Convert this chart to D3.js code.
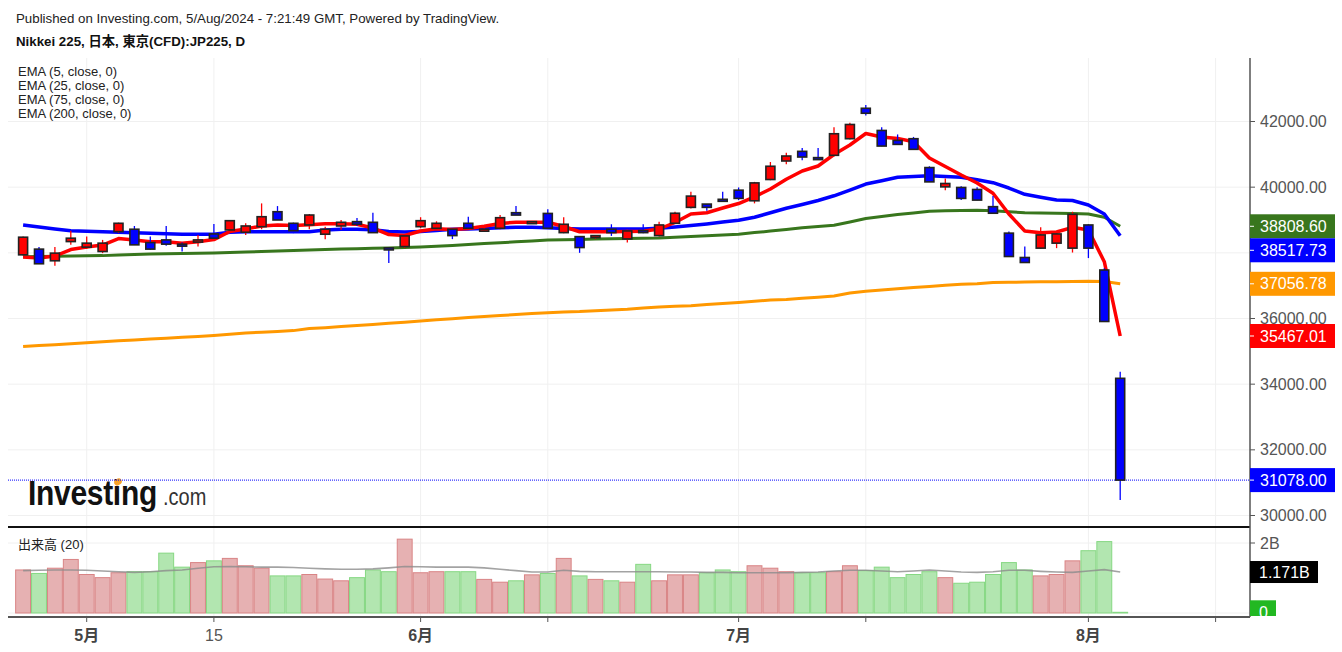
<!DOCTYPE html>
<html>
<head>
<meta charset="utf-8">
<script src="https://cdn.jsdelivr.net/npm/d3@7"></script>
<style>
  body { margin: 0; background: #fff; }
  svg { display: block; font-family: "Liberation Sans", Arial, "Noto Sans CJK JP", sans-serif; }
</style>
</head>
<body>
<div id="chart"></div>
<script>
// daily bars, Nikkei 225 CFD (JP holidays skipped)
var dates = ["2024-04-24","2024-04-25","2024-04-26","2024-04-30","2024-05-01","2024-05-02","2024-05-07","2024-05-08","2024-05-09","2024-05-10",
  "2024-05-13","2024-05-14","2024-05-15","2024-05-16","2024-05-17","2024-05-20","2024-05-21","2024-05-22","2024-05-23","2024-05-24",
  "2024-05-27","2024-05-28","2024-05-29","2024-05-30","2024-05-31","2024-06-03","2024-06-04","2024-06-05","2024-06-06","2024-06-07",
  "2024-06-10","2024-06-11","2024-06-12","2024-06-13","2024-06-14","2024-06-17","2024-06-18","2024-06-19","2024-06-20","2024-06-21",
  "2024-06-24","2024-06-25","2024-06-26","2024-06-27","2024-06-28","2024-07-01","2024-07-02","2024-07-03","2024-07-04","2024-07-05",
  "2024-07-08","2024-07-09","2024-07-10","2024-07-11","2024-07-12","2024-07-16","2024-07-17","2024-07-18","2024-07-19","2024-07-22",
  "2024-07-23","2024-07-24","2024-07-25","2024-07-26","2024-07-29","2024-07-30","2024-07-31","2024-08-01","2024-08-02","2024-08-05"];

var opens = [37939,38113,37758,38343,38174,38040,38646,38719,38313,38394,
  38264,38327,38576,38697,38627,38797,39252,38900,38849,38567,
  38818,38950,38930,38150,38191,38797,38748,38719,38900,38670,
  38748,39222,38900,39200,38615,38494,38475,38719,38424,38676,
  38525,38900,39385,39485,39630,39909,39585,40233,40797,41091,
  40900,40970,41476,42403,41727,41424,41476,40597,40009,39991,
  39930,39406,38600,37858,38143,38295,38143,38849,37477,34178];
var highs = [38500,38174,38174,38676,38494,38394,38920,38818,38494,38818,
  38313,38545,38879,39000,38900,39506,39424,38920,39182,38797,
  39000,39060,39222,38160,38540,39085,38960,38730,39100,38780,
  39152,39424,38960,39325,39085,38494,38540,38870,38700,38870,
  38950,39255,39858,39485,39858,39991,40161,40767,41052,41191,
  41191,41827,41961,42506,41827,41606,41530,40636,40264,40030,
  40000,39730,38646,38191,38779,38616,39252,38870,37528,34379];
var lows = [37920,37660,37606,38243,38113,37991,38600,38243,38091,38212,
  38040,38193,38425,38670,38540,38720,39000,38600,38720,38416,
  38700,38820,38615,37690,38150,38748,38700,38418,38748,38640,
  38720,39150,38890,38748,38600,38000,38420,38515,38313,38600,
  38494,38880,39354,39282,39590,39606,39506,40212,40697,40818,
  40840,40940,41455,42182,41250,41300,41150,40160,39909,39606,
  39600,39200,37888,37706,38113,38143,38009,37840,35900,30471];
var closes = [38476,37667,37991,38446,38295,38295,38900,38243,38113,38264,
  38212,38394,38446,38979,38818,39100,39000,38676,39152,38719,
  38930,38870,38615,38100,38515,38979,38900,38525,38748,38720,
  39070,39150,38950,38748,38870,38161,38525,38615,38667,38615,
  38849,39206,39728,39385,39590,39658,40130,40637,40949,40918,
  40842,41627,41909,42251,41252,41303,41152,40161,40112,39658,
  39606,39206,37888,37706,38546,38576,39173,38143,35909,31078];

// volume in billions and its 20-bar average
var volumes = [1.23,1.13,1.28,1.53,1.10,1.01,1.15,1.18,1.18,1.71,
  1.31,1.44,1.49,1.56,1.35,1.28,1.06,1.06,1.10,0.97,
  0.92,1.01,1.23,1.18,2.11,1.15,1.18,1.18,1.18,0.96,
  0.88,0.92,1.09,1.13,1.56,1.06,0.96,0.92,0.88,1.39,
  0.92,1.09,1.09,1.15,1.23,1.18,1.35,1.28,1.18,1.15,
  1.15,1.18,1.35,1.21,1.31,1.01,1.10,1.18,1.01,0.85,
  0.88,1.10,1.44,1.23,1.06,1.10,1.49,1.78,2.04,0.02];
var volumeMA = [1.21,1.22,1.23,1.23,1.22,1.20,1.18,1.16,1.18,1.21,
  1.23,1.28,1.32,1.33,1.32,1.31,1.31,1.30,1.28,1.26,
  1.25,1.25,1.26,1.29,1.33,1.32,1.31,1.31,1.31,1.29,
  1.25,1.21,1.17,1.17,1.22,1.19,1.18,1.18,1.18,1.18,
  1.18,1.17,1.17,1.16,1.16,1.15,1.15,1.15,1.15,1.16,
  1.17,1.20,1.22,1.22,1.20,1.18,1.20,1.23,1.20,1.17,
  1.16,1.18,1.22,1.22,1.19,1.17,1.16,1.20,1.24,1.171];

// EMA values
var ema5 = [37873,37842,37903,38101,38177,38238,38436,38391,38339,38339,
  38293,38336,38403,38649,38726,38817,38847,38829,38857,38887,
  38884,38872,38756,38558,38528,38665,38735,38710,38738,38811,
  38896,38930,38930,38930,38802,38643,38643,38643,38649,38659,
  38726,38924,39182,39222,39365,39502,39706,39944,40239,40492,
  40645,40995,41284,41634,41528,41485,41385,40888,40629,40370,
  40127,39813,39182,38665,38613,38634,38777,38695,37729,35467.01];
var ema25 = [38847,38786,38726,38671,38656,38640,38625,38610,38595,38579,
  38564,38564,38564,38628,38643,38643,38643,38643,38643,38695,
  38716,38722,38704,38652,38631,38652,38680,38716,38726,38741,
  38765,38777,38777,38765,38741,38726,38726,38726,38726,38729,
  38750,38787,38829,38878,38936,38991,39085,39219,39359,39472,
  39594,39737,39913,40096,40197,40303,40325,40346,40325,40303,
  40224,40136,39974,39782,39691,39609,39594,39457,39182,38517.73];
var ema75 = [37882,37888,37894,37900,37909,37915,37934,37949,37964,37970,
  37979,37985,37994,38010,38025,38040,38055,38071,38086,38101,
  38116,38126,38138,38150,38159,38177,38202,38223,38253,38281,
  38308,38336,38363,38391,38397,38406,38418,38427,38433,38442,
  38451,38473,38500,38518,38543,38567,38616,38662,38713,38765,
  38802,38838,38939,39045,39106,39167,39213,39265,39280,39289,
  39298,39280,39250,39222,39216,39207,39198,39182,39082,38808.60];
var ema200 = [35146,35177,35201,35232,35262,35293,35320,35348,35375,35399,
  35427,35451,35482,35518,35558,35582,35604,35631,35692,35722,
  35753,35786,35820,35856,35887,35926,35960,35993,36027,36060,
  36091,36121,36149,36173,36197,36210,36234,36258,36283,36319,
  36347,36371,36389,36423,36456,36490,36523,36563,36578,36615,
  36648,36685,36776,36831,36868,36904,36941,36977,37014,37041,
  37059,37096,37102,37111,37117,37120,37126,37133,37126,37056.78];

var emaNames = ["EMA (5, close, 0)", "EMA (25, close, 0)", "EMA (75, close, 0)", "EMA (200, close, 0)"];
var priceTicks = [30000, 32000, 34000, 36000, 38000, 40000, 42000];
var volTicks = [2];
var tickDates = ["2024-05-01","2024-05-15","2024-06-03","2024-06-13","2024-07-01","2024-07-11","2024-08-01","2024-08-13"];
var tickLabels = ["5月","15","6月","","7月","","8月",""];

// layout
var width = 1342, height = 652;
var left = 8, right = 1250, mainTop = 58, mainBottom = 527, volBottom = 617;
const upColor = "#ff0000", downColor = "#0000ff";

var svg = d3.select("#chart").append("svg")
    .attr("width", width)
    .attr("height", height);

var x = d3.scaleLinear().domain([0, dates.length - 1]).range([23.1, 1120.2]);
var y = d3.scaleLinear().domain([30000, 42000]).range([515.5, 121.5]);
var yVol = d3.scaleLinear().domain([0, 2]).range([613, 543]);

// bar index of a date, counting weekdays past the last bar
function dateIndex(d) {
  var i = dates.indexOf(d);
  if (i >= 0) return i;
  var t = new Date(dates[dates.length - 1] + "T00:00:00Z"), end = new Date(d + "T00:00:00Z"), n = dates.length - 1;
  while (t < end) {
    t.setUTCDate(t.getUTCDate() + 1);
    if (t.getUTCDay() != 0 && t.getUTCDay() != 6) n++;
  }
  return n;
}
var tickX = tickDates.map(function(d) { return x(dateIndex(d)); });

var defs = svg.append("defs");
defs.append("clipPath").attr("id", "clipMain").append("rect")
    .attr("x", left).attr("y", mainTop).attr("width", right - left).attr("height", mainBottom - mainTop);
defs.append("clipPath").attr("id", "clipVol").append("rect")
    .attr("x", left).attr("y", mainBottom).attr("width", right - left).attr("height", volBottom - mainBottom);

// grid
var grid = svg.append("g").attr("stroke", "#f0f0f0").attr("stroke-width", 1);
tickX.forEach(function(tx) {
  grid.append("line").attr("x1", tx).attr("x2", tx).attr("y1", mainTop).attr("y2", volBottom);
});
priceTicks.forEach(function(p) {
  grid.append("line").attr("x1", left).attr("x2", right).attr("y1", y(p)).attr("y2", y(p));
});
[0, 2].forEach(function(v) {
  grid.append("line").attr("x1", left).attr("x2", right).attr("y1", yVol(v)).attr("y2", yVol(v));
});

// header
svg.append("text").attr("x", 16).attr("y", 22.5)
    .style("font-size", "13.3px").style("fill", "#222")
    .text("Published on Investing.com, 5/Aug/2024 - 7:21:49 GMT, Powered by TradingView.");
svg.append("text").attr("x", 16).attr("y", 45.5)
    .style("font-size", "13.3px").style("font-weight", "bold").style("fill", "#111")
    .text("Nikkei 225, 日本, 東京(CFD):JP225, D");

// logo
var logo = svg.append("g");
logo.append("text").attr("transform", "translate(28,505) scale(1,1.16)")
    .style("font-size", "30px").style("font-weight", "bold").style("fill", "#111")
    .style("letter-spacing", "-0.3px")
    .text("Investing");
logo.append("text").attr("transform", "translate(163,505) scale(1,1.2)")
    .style("font-size", "20px").style("fill", "#333")
    .text(".com");
logo.append("ellipse").attr("cx", 118).attr("cy", 482).attr("rx", 4).attr("ry", 3.2)
    .attr("transform", "rotate(-35,118,482)").style("fill", "#f7a128");

// current price line
svg.append("line").attr("x1", left).attr("x2", right)
    .attr("y1", y(closes[closes.length - 1])).attr("y2", y(closes[closes.length - 1]))
    .attr("stroke", "#0000ff").attr("stroke-width", 1).attr("stroke-dasharray", "1,1");

// EMA lines
var main = svg.append("g").attr("clip-path", "url(#clipMain)");
var line = d3.line().x(function(d, i) { return x(i); }).y(function(d) { return y(d); });
var emaSeries = [
  {values: ema200, color: "#ff9800", w: 3},
  {values: ema75, color: "#38761d", w: 3},
  {values: ema25, color: "#0000ff", w: 3.5},
  {values: ema5, color: "#ff0000", w: 3.5}
];
emaSeries.forEach(function(s) {
  main.append("path").datum(s.values)
      .attr("d", line)
      .style("fill", "none")
      .style("stroke", s.color)
      .style("stroke-width", s.w)
      .style("stroke-linejoin", "round");
});

// candles
var candle = main.selectAll(".candle")
    .data(dates)
    .enter().append("g")
    .attr("class", "candle");
candle.append("line")
    .attr("x1", function(d, i) { return x(i); })
    .attr("x2", function(d, i) { return x(i); })
    .attr("y1", function(d, i) { return y(highs[i]); })
    .attr("y2", function(d, i) { return y(lows[i]); })
    .style("stroke", function(d, i) { return closes[i] >= opens[i] ? upColor : downColor; })
    .style("stroke-width", 1.3);
candle.append("rect")
    .attr("x", function(d, i) { return x(i) - 4.5; })
    .attr("width", 9)
    .attr("y", function(d, i) { return y(Math.max(opens[i], closes[i])); })
    .attr("height", function(d, i) { return Math.max(2, Math.abs(y(opens[i]) - y(closes[i]))); })
    .style("fill", function(d, i) { return closes[i] >= opens[i] ? upColor : downColor; })
    .style("stroke", "#222")
    .style("stroke-width", 1.6);

// legend
emaNames.forEach(function(n, i) {
  svg.append("text").attr("x", 18).attr("y", 76 + i * 14)
      .style("font-size", "13px").style("fill", "#222").text(n);
});

// volume pane
var vol = svg.append("g").attr("clip-path", "url(#clipVol)");
var step = x(1) - x(0);
vol.selectAll(".vbar")
    .data(volumes)
    .enter().append("rect")
    .attr("class", "vbar")
    .attr("x", function(d, i) { return x(i) - step / 2 + 0.5; })
    .attr("width", step - 1)
    .attr("y", function(d) { return yVol(d); })
    .attr("height", function(d) { return yVol(0) - yVol(d); })
    .style("fill", function(d, i) { return closes[i] >= opens[i] ? "#e6b1b2" : "#b2e6b0"; })
    .style("stroke", function(d, i) { return closes[i] >= opens[i] ? "#d98485" : "#86d883"; })
    .style("stroke-width", 1);
vol.append("path").datum(volumeMA)
    .attr("d", d3.line().x(function(d, i) { return x(i); }).y(function(d) { return yVol(d); }))
    .style("fill", "none").style("stroke", "#8c8c8c").style("stroke-opacity", 0.8).style("stroke-width", 1.6);
svg.append("text").attr("x", 18).attr("y", 549)
    .style("font-size", "13px").style("fill", "#222").text("出来高 (20)");

// frame lines
svg.append("line").attr("x1", left).attr("x2", right).attr("y1", mainBottom).attr("y2", mainBottom)
    .attr("stroke", "#111").attr("stroke-width", 2);
svg.append("line").attr("x1", left).attr("x2", right).attr("y1", volBottom).attr("y2", volBottom)
    .attr("stroke", "#555").attr("stroke-width", 2);
svg.append("line").attr("x1", right).attr("x2", right).attr("y1", mainTop).attr("y2", volBottom)
    .attr("stroke", "#555").attr("stroke-width", 1.5);

// price axis
priceTicks.forEach(function(p) {
  svg.append("line").attr("x1", right).attr("x2", right + 5).attr("y1", y(p)).attr("y2", y(p))
      .attr("stroke", "#555");
  svg.append("text").attr("x", 1260).attr("y", y(p)).attr("dy", "0.35em")
      .style("font-size", "16px").style("fill", "#555").text(d3.format(".2f")(p));
});
volTicks.forEach(function(v) {
  svg.append("line").attr("x1", right).attr("x2", right + 5).attr("y1", yVol(v)).attr("y2", yVol(v))
      .attr("stroke", "#555");
  svg.append("text").attr("x", 1260).attr("y", yVol(v)).attr("dy", "0.35em")
      .style("font-size", "16px").style("fill", "#555").text(v + "B");
});

// time axis
tickX.forEach(function(tx, i) {
  svg.append("line").attr("x1", tx).attr("x2", tx).attr("y1", volBottom).attr("y2", volBottom + 5)
      .attr("stroke", "#555");
  var bold = tickLabels[i].indexOf("月") >= 0;
  svg.append("text").attr("x", tx).attr("y", 641)
      .attr("text-anchor", "middle")
      .style("font-size", "16px")
      .style("font-weight", bold ? "bold" : "normal")
      .style("fill", bold ? "#444" : "#555")
      .text(tickLabels[i]);
});

// last value labels, pushed apart when they overlap
var last = dates.length - 1;
var tags = [
  {v: ema75[last], color: "#38761d"},
  {v: ema25[last], color: "#0000ff"},
  {v: ema200[last], color: "#ff9800"},
  {v: ema5[last], color: "#ff0000"},
  {v: closes[last], color: "#0000ff"}
];
tags.forEach(function(t) { t.y = y(t.v); });
tags.sort(function(a, b) { return a.y - b.y; });
for (var k = 1; k < tags.length; k++) {
  if (tags[k].y < tags[k - 1].y + 24) tags[k].y = tags[k - 1].y + 24;
}
tags.forEach(function(t) {
  svg.append("rect").attr("x", right).attr("y", t.y - 12).attr("width", 85).attr("height", 24)
      .style("fill", t.color);
  svg.append("line").attr("x1", right).attr("x2", right + 4).attr("y1", t.y).attr("y2", t.y)
      .attr("stroke", "#fff");
  svg.append("text").attr("x", 1260).attr("y", t.y).attr("dy", "0.35em")
      .style("font-size", "16px").style("fill", "#fff").text(d3.format(".2f")(t.v));
});

// volume labels
var maY = yVol(volumeMA[last]);
svg.append("rect").attr("x", right).attr("y", maY - 11).attr("width", 68).attr("height", 22).style("fill", "#000");
svg.append("text").attr("x", 1259).attr("y", maY).attr("dy", "0.35em")
    .style("font-size", "16px").style("fill", "#fff").text(volumeMA[last].toFixed(3) + "B");
var vY = yVol(volumes[last]);
svg.append("rect").attr("x", right).attr("y", vY - 12).attr("width", 26).attr("height", volBottom - (vY - 12) - 1)
    .style("fill", "#22b822");
svg.append("text").attr("x", 1259).attr("y", vY).attr("dy", "0.35em")
    .style("font-size", "16px").style("fill", "#fff").text("0");
</script>
</body>
</html>
